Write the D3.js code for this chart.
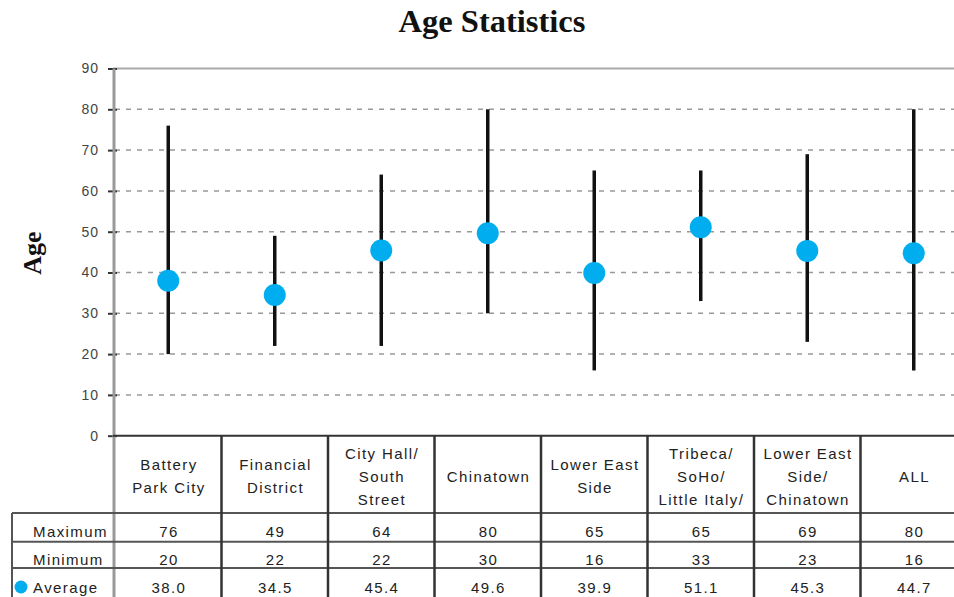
<!DOCTYPE html>
<html><head><meta charset="utf-8">
<script src="https://cdn.jsdelivr.net/npm/d3@7/dist/d3.min.js"></script>
<style>body{margin:0;background:#fff;overflow:hidden}</style>
</head><body>
<svg id="c" width="954" height="597"></svg>
<script>
const categories = [["Battery","Park City"],["Financial","District"],["City Hall/","South","Street"],["Chinatown"],["Lower East","Side"],["Tribeca/","SoHo/","Little Italy/"],["Lower East","Side/","Chinatown"],["ALL"]];
const maximum = [76,49,64,80,65,65,69,80];
const minimum = [20,22,22,30,16,33,23,16];
const average = [38.0,34.5,45.4,49.6,39.9,51.1,45.3,44.7];
const yTicks = [0,10,20,30,40,50,60,70,80,90];
const rowLabels = ["Maximum","Minimum","Average"];

const svg = d3.select("#c");
const keys = categories.map((c,i)=>"c"+i);
const x = d3.scaleBand().domain(keys).range([115, 967]).padding(0);
const y = d3.scaleLinear().domain([0,90]).range([435.7, 68.5]);
const sans = "'Liberation Sans', Arial, sans-serif";
const serif = "'Liberation Serif', 'Times New Roman', serif";

// title
svg.append("text").attr("x",492).attr("y",32).attr("text-anchor","middle")
  .attr("font-family",serif).attr("font-weight","bold").attr("font-size",32.5).attr("fill","#111").text("Age Statistics");
// y label
svg.append("text").attr("transform","translate(41,253) rotate(-90)").attr("text-anchor","middle")
  .attr("font-family",serif).attr("font-weight","bold").attr("font-size",26).attr("fill","#111").text("Age");

// gridlines
svg.append("g").selectAll("line").data(yTicks.filter(d=>d>0&&d<90)).join("line")
  .attr("x1",115).attr("x2",954).attr("y1",d=>y(d)).attr("y2",d=>y(d))
  .attr("stroke","#999").attr("stroke-width",1.5).attr("stroke-dasharray","5,6");
// top frame
svg.append("line").attr("x1",113).attr("x2",954).attr("y1",y(90)).attr("y2",y(90)).attr("stroke","#aaa").attr("stroke-width",2);

// y axis
const yAxis = d3.axisLeft(y).tickValues(yTicks).tickSize(5).tickPadding(6);
const ga = svg.append("g").attr("transform","translate(113,0)").call(yAxis);
ga.select(".domain").remove();
ga.selectAll(".tick line").attr("stroke","#333").attr("stroke-width",2).attr("x2",4).attr("x1",-5);
ga.selectAll(".tick text").attr("font-family",sans).attr("font-size",14).attr("fill","#444").attr("letter-spacing",1).attr("x",-14);
svg.append("line").attr("x1",114).attr("x2",114).attr("y1",y(90)).attr("y2",597).attr("stroke","#999").attr("stroke-width",3);

// table lines
const tY = [436, 513, 541.7, 568];
svg.append("g").selectAll("line").data(tY.slice(1)).join("line")
  .attr("x1",12).attr("x2",954).attr("y1",d=>d).attr("y2",d=>d).attr("stroke","#555").attr("stroke-width",2);
svg.append("line").attr("x1",12).attr("x2",12).attr("y1",513).attr("y2",597).attr("stroke","#555").attr("stroke-width",2);
svg.append("g").selectAll("line").data(keys.slice(1)).join("line")
  .attr("x1",d=>x(d)).attr("x2",d=>x(d)).attr("y1",436).attr("y2",597).attr("stroke","#333").attr("stroke-width",2.5);
// x axis line
svg.append("line").attr("x1",113).attr("x2",954).attr("y1",y(0)).attr("y2",y(0)).attr("stroke","#333").attr("stroke-width",2);

// bars and dots
const g = svg.append("g");
g.selectAll("line").data(keys).join("line")
  .attr("x1",d=>x(d)+x.bandwidth()/2).attr("x2",d=>x(d)+x.bandwidth()/2)
  .attr("y1",(d,i)=>y(maximum[i])).attr("y2",(d,i)=>y(minimum[i]))
  .attr("stroke","#111").attr("stroke-width",3.5);
g.selectAll("circle").data(keys).join("circle")
  .attr("cx",d=>x(d)+x.bandwidth()/2).attr("cy",(d,i)=>y(average[i])).attr("r",11).attr("fill","#00AEEF");

// header text
const fs = 15, ls = 1.4;
const hdr = svg.append("g");
categories.forEach((lines,i)=>{
  const cx = x(keys[i])+x.bandwidth()/2 + ls/2;
  const lh = 23, cy = 481.5;
  const t = hdr.append("text").attr("text-anchor","middle").attr("font-family",sans).attr("font-size",fs).attr("fill","#222").attr("letter-spacing",ls);
  lines.forEach((l,j)=>{
    t.append("tspan").attr("x",cx).attr("y",cy + (j-(lines.length-1)/2)*lh).text(l);
  });
});
// rows
const rows = [maximum, minimum, average.map(v=>v.toFixed(1))];
const rowY = [536.5, 565, 592.5];
rows.forEach((vals,r)=>{
  svg.append("g").selectAll("text").data(vals).join("text")
    .attr("x",(d,i)=>x(keys[i])+x.bandwidth()/2 + ls/2).attr("y",rowY[r]).attr("text-anchor","middle")
    .attr("font-family",sans).attr("font-size",fs).attr("fill","#222").attr("letter-spacing",ls).text(d=>d);
  svg.append("text").attr("x",33).attr("y",rowY[r]).attr("font-family",sans).attr("font-size",fs)
    .attr("fill","#222").attr("letter-spacing",ls).text(rowLabels[r]);
});
svg.append("circle").attr("cx",21).attr("cy",587).attr("r",6.5).attr("fill","#00AEEF");
</script>
</body></html>
